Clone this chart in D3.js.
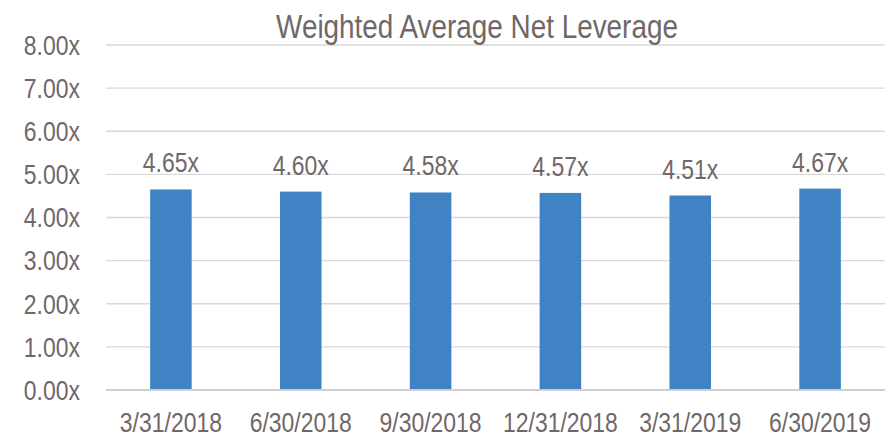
<!DOCTYPE html>
<html>
<head>
<meta charset="utf-8">
<script src="https://cdn.jsdelivr.net/npm/d3@7"></script>
<style>
  body { margin: 0; background: #fff; }
  text { font-family: "Liberation Sans", Arial, sans-serif; fill: #716767; }
</style>
</head>
<body>
<div id="chart"></div>
<script>
// data
const dates = ["3/31/2018", "6/30/2018", "9/30/2018", "12/31/2018", "3/31/2019", "6/30/2019"];
const leverage = [4.65, 4.60, 4.58, 4.57, 4.51, 4.67];
const yTicks = [0, 1, 2, 3, 4, 5, 6, 7, 8];

const width = 888, height = 438;
const margin = { top: 45, right: 3, bottom: 48, left: 106 };
const narrow = 0.82; // fake Arial Narrow look

const svg = d3.select("#chart")
  .append("svg")
  .attr("width", width)
  .attr("height", height);

const x = d3.scaleBand()
  .domain(dates)
  .range([margin.left, width - margin.right])
  .paddingInner(0.68)
  .paddingOuter(0.34);

const y = d3.scaleLinear()
  .domain([0, 8])
  .range([height - margin.bottom, margin.top]);

// place condensed text at (px, py)
const place = (px, py) => `translate(${px},${py}) scale(${narrow},1)`;

// gridlines
svg.append("g")
  .selectAll("line")
  .data(yTicks.slice(1))
  .join("line")
  .attr("x1", margin.left)
  .attr("x2", width - margin.right)
  .attr("y1", d => y(d))
  .attr("y2", d => y(d))
  .attr("stroke", "#d9d9d9")
  .attr("stroke-width", 1.3);

// y labels
svg.append("g")
  .selectAll("text")
  .data(yTicks)
  .join("text")
  .attr("transform", d => place(80, y(d)))
  .attr("dy", "0.35em")
  .attr("text-anchor", "end")
  .attr("font-size", "28px")
  .text(d => d.toFixed(2) + "x");

// bars
svg.append("g")
  .selectAll("rect")
  .data(leverage)
  .join("rect")
  .attr("x", (d, i) => x(dates[i]))
  .attr("y", d => y(d))
  .attr("width", x.bandwidth())
  .attr("height", d => y(0) - y(d))
  .attr("fill", "#3f83c5");

// value labels
svg.append("g")
  .selectAll("text")
  .data(leverage)
  .join("text")
  .attr("transform", (d, i) => place(x(dates[i]) + x.bandwidth() / 2, y(d) - 17))
  .attr("text-anchor", "middle")
  .attr("font-size", "28px")
  .text(d => d.toFixed(2) + "x");

// x axis line
svg.append("line")
  .attr("x1", margin.left)
  .attr("x2", width - margin.right)
  .attr("y1", y(0))
  .attr("y2", y(0))
  .attr("stroke", "#d0cece")
  .attr("stroke-width", 2);

// x labels
svg.append("g")
  .selectAll("text")
  .data(dates)
  .join("text")
  .attr("transform", d => place(x(d) + x.bandwidth() / 2, 432))
  .attr("text-anchor", "middle")
  .attr("font-size", "28px")
  .text(d => d);

// title
svg.append("text")
  .attr("transform", place(477, 38))
  .attr("text-anchor", "middle")
  .attr("font-size", "34px")
  .text("Weighted Average Net Leverage");
</script>
</body>
</html>
